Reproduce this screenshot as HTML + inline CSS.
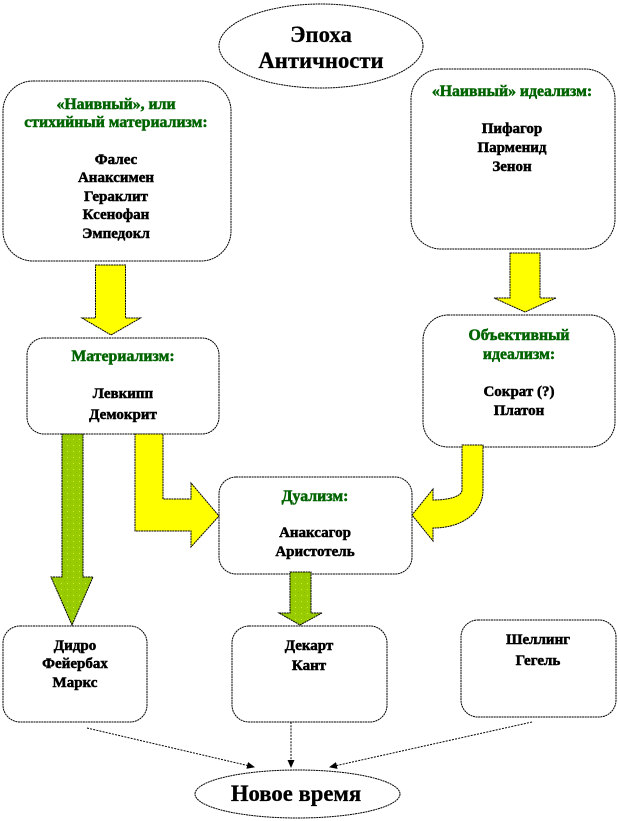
<!DOCTYPE html>
<html><head><meta charset="utf-8"><style>
html,body{margin:0;padding:0;background:#fff}
svg{display:block}
text{font-family:"Liberation Serif","Noto Serif CJK SC",serif;font-weight:bold;text-anchor:middle;fill:#000;stroke:#000;stroke-width:.5}
text.g{fill:#006400;stroke:#006400;font-size:15.8px}
.b{fill:#fff;stroke:#000;stroke-width:1;stroke-dasharray:2 .6}
.y{fill:#ff0;stroke:#000;stroke-width:1;stroke-dasharray:2 .6}
.n{fill:url(#p);stroke:#000;stroke-width:1;stroke-dasharray:2 .6}
.l{fill:none;stroke:#000;stroke-width:1;stroke-dasharray:2 1.2}
.t{font-size:15px}
.h{font-size:22.7px;stroke-width:.3}
</style></head><body>
<svg width="618" height="821" viewBox="0 0 618 821" xmlns="http://www.w3.org/2000/svg">
<defs>
<pattern id="p" width="6" height="6" patternUnits="userSpaceOnUse"><rect width="6" height="6" fill="#99cc00"/><rect x="1" y="1" width="1" height="1" fill="#ccee33"/><rect x="4" y="4" width="1" height="1" fill="#88bb00"/></pattern>
<marker id="a" markerWidth="8" markerHeight="7" refX="7" refY="3.5" orient="auto" markerUnits="userSpaceOnUse"><path d="M0 0L8 3.5L0 7Z" fill="#000"/></marker>
</defs>

<ellipse class="b" cx="321" cy="46" rx="102" ry="42"/>
<text class="h" x="321" y="42">Эпоха</text>
<text class="h" x="321" y="68">Античности</text>

<rect class="b" x="3" y="81" width="228" height="180" rx="30"/>
<text class="t g" x="116" y="109">«Наивный», или</text>
<text class="t g" x="116" y="127">стихийный материализм:</text>
<text class="t" x="116" y="164">Фалес</text>
<text class="t" x="116" y="182">Анаксимен</text>
<text class="t" x="116" y="201">Гераклит</text>
<text class="t" x="116" y="219">Ксенофан</text>
<text class="t" x="116" y="238">Эмпедокл</text>

<rect class="b" x="411" y="69" width="204" height="180" rx="30"/>
<text class="t g" x="512" y="96">«Наивный» идеализм:</text>
<text class="t" x="512" y="133">Пифагор</text>
<text class="t" x="512" y="152">Парменид</text>
<text class="t" x="512" y="171">Зенон</text>

<rect class="b" x="27" y="338" width="192" height="96" rx="17"/>
<text class="t g" x="123" y="361">Материализм:</text>
<text class="t" x="123" y="398">Левкипп</text>
<text class="t" x="123" y="419">Демокрит</text>

<rect class="b" x="423" y="315" width="192" height="132" rx="25"/>
<text class="t g" x="519" y="340">Объективный</text>
<text class="t g" x="519" y="359">идеализм:</text>
<text class="t" x="519" y="396">Сократ (?)</text>
<text class="t" x="519" y="415">Платон</text>

<rect class="b" x="219" y="477" width="193" height="97" rx="17"/>
<text class="t g" x="315" y="501">Дуализм:</text>
<text class="t" x="315" y="537">Анаксагор</text>
<text class="t" x="315" y="556">Аристотель</text>

<rect class="b" x="3" y="626" width="144" height="96" rx="17"/>
<text class="t" x="75" y="650">Дидро</text>
<text class="t" x="75" y="668">Фейербах</text>
<text class="t" x="75" y="687">Маркс</text>

<rect class="b" x="232" y="626" width="155" height="96" rx="17"/>
<text class="t" x="309" y="650">Декарт</text>
<text class="t" x="309" y="670">Кант</text>

<rect class="b" x="461" y="620" width="155" height="97" rx="17"/>
<text class="t" x="538" y="644">Шеллинг</text>
<text class="t" x="538" y="665">Гегель</text>

<path class="y" d="M95.5 265H125.5V318H140.5L111 335L82 318H95.5Z"/>
<path class="y" d="M510 253H540V298H556L525 312L494 298H510Z"/>
<path class="n" d="M62 434H83V577H93L72 625L51 577H62Z"/>
<path class="y" d="M135 434H163V499H191V483L219 516L191 547V531H135Z"/>
<path class="y" d="M462 445H483V490C483 512 463 528 433 528V541L412 515L433 489V500C450 500 462 496 462 490Z"/>
<path class="n" d="M290 572H311V613H322L300 625L279 613H290Z"/>

<line class="l" x1="87" y1="728" x2="254" y2="767" marker-end="url(#a)"/>
<line class="l" x1="291" y1="722" x2="291" y2="767" marker-end="url(#a)"/>
<line class="l" x1="532" y1="722" x2="330" y2="767" marker-end="url(#a)"/>

<ellipse class="b" cx="297.5" cy="794" rx="102.5" ry="24"/>
<text class="h" x="296" y="801">Новое время</text>
</svg>
</body></html>
